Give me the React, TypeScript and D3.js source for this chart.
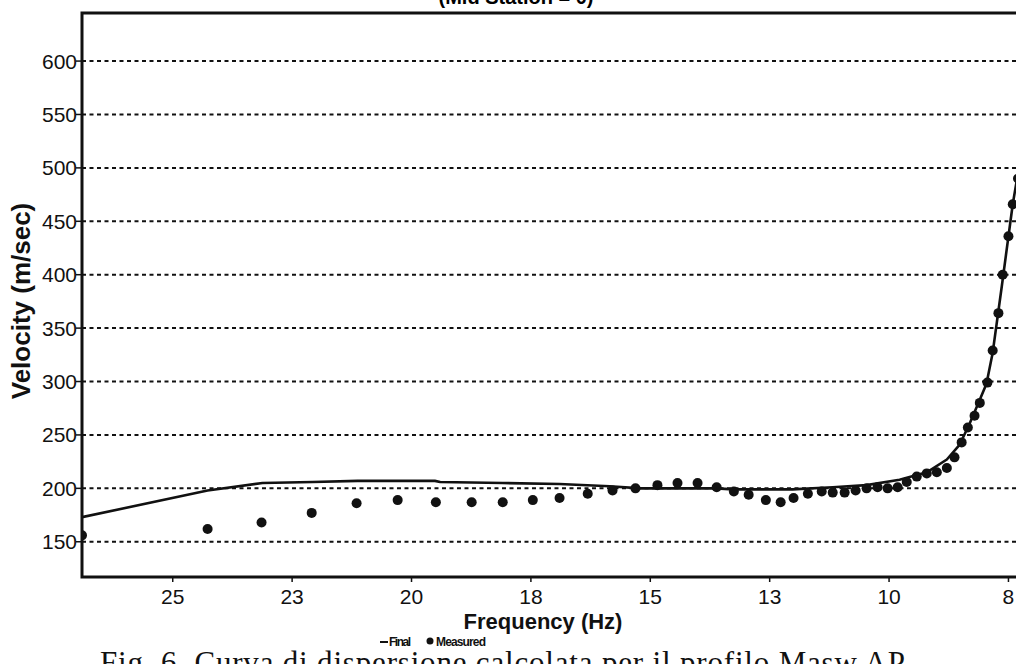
import React from 'react'
import * as d3 from 'd3'

// measured dispersion points (Hz, m/sec)
const measuredFreq = [26.9, 24.27, 23.14, 22.09, 21.15, 20.29, 19.49, 18.74, 18.09, 17.46, 16.9, 16.31, 15.79, 15.31, 14.85, 14.43, 14.01, 13.61, 13.25, 12.94, 12.58, 12.27, 12.0, 11.7, 11.41, 11.18, 10.93, 10.7, 10.47, 10.24, 10.03, 9.82, 9.63, 9.42, 9.21, 9.0, 8.79, 8.63, 8.48, 8.35, 8.21, 8.1, 7.94, 7.83, 7.71, 7.62, 7.5, 7.41, 7.3]
const measuredVel = [156, 162, 168, 177, 186, 189, 187, 187, 187, 189, 191, 195, 198, 200, 203, 205, 205, 201, 197, 194, 189, 187, 191, 195, 197, 196, 196, 198, 200, 201, 200, 201, 206, 211, 214, 215, 219, 229, 243, 257, 268, 280, 299, 329, 364, 400, 436, 466, 490]

// final (calculated) curve
const finalFreq = [26.9, 24.27, 23.12, 22.07, 21.13, 19.51, 19.4, 18.09, 16.9, 15.85, 15.2, 13.61, 13.27, 12.02, 11.18, 10.47, 9.78, 9.21, 8.79, 8.52, 8.31, 8.1, 7.96, 7.83, 7.64, 7.41, 7.3]
const finalVel = [173, 198, 205, 206, 207, 207, 206, 205, 204, 202, 200, 200, 199, 199, 201, 203, 208, 215, 227, 241, 261, 283, 298, 327, 389, 466, 495]

const xTicks = [25, 22.5, 20, 17.5, 15, 12.5, 10, 7.5]
const yTicks = [150, 200, 250, 300, 350, 400, 450, 500, 550, 600]

const sans = "Arial, 'Liberation Sans', sans-serif"
const serif = "'Times New Roman', 'Liberation Serif', serif"

export default function App() {
  const width = 1016, height = 664
  const x = d3.scaleLinear().domain([26.9, 7.3]).range([82, 1018])
  const y = d3.scaleLinear().domain([117, 645]).range([577, 13])
  const [x0, x1] = x.range()
  const [y0, y1] = y.range()

  const linePath = d3.line<number>()
    .x((d, i) => x(finalFreq[i]))
    .y(d => y(d))(finalVel)

  return (
    <svg width={width} height={height} style={{position: 'absolute', left: 0, top: 0, background: '#fff'}}>
      <defs>
        <clipPath id='plot'>
          <rect x={x0} y={y1} width={x1 - x0} height={y0 - y1}/>
        </clipPath>
      </defs>

      {/* title, cut off by the top of the picture */}
      <text x={516} y={4} textAnchor='middle' fontFamily={sans} fontWeight='bold' fontSize={20}>(Mid Station = 0)</text>

      {/* grid */}
      {yTicks.map(t => (
        <g key={t}>
          <line x1={x0} x2={x1} y1={y(t)} y2={y(t)} stroke='#111' strokeWidth={2} strokeDasharray='4,3.5'/>
          <line x1={x0 - 6} x2={x0} y1={y(t)} y2={y(t)} stroke='#111' strokeWidth={1.5}/>
          <text x={x0 - 5} y={y(t)} dy='0.36em' textAnchor='end' fontFamily={sans} fontSize={21} fill='#111'>{t}</text>
        </g>
      ))}

      {xTicks.map(t => (
        <g key={t}>
          <line x1={x(t)} x2={x(t)} y1={y0} y2={y0 + 5} stroke='#111' strokeWidth={1.5}/>
          <text x={x(t)} y={y0 + 27} textAnchor='middle' fontFamily={sans} fontSize={21} fill='#111'>{Math.round(t)}</text>
        </g>
      ))}

      <g clipPath='url(#plot)'>
        <path d={linePath ?? ''} fill='none' stroke='#111' strokeWidth={2.6} strokeLinejoin='round'/>
        {measuredVel.map((v, i) => (
          <circle key={i} cx={x(measuredFreq[i])} cy={y(v)} r={5} fill='#111'/>
        ))}
      </g>

      <rect x={x0} y={y1} width={x1 - x0} height={y0 - y1} fill='none' stroke='#111' strokeWidth={3}/>

      <text transform={`translate(30,301) rotate(-90)`} textAnchor='middle' fontFamily={sans} fontWeight='bold' fontSize={26} fill='#111'>Velocity (m/sec)</text>
      <text x={543} y={629} textAnchor='middle' fontFamily={sans} fontWeight='bold' fontSize={22} fill='#111'>Frequency (Hz)</text>

      {/* legend */}
      <g fontFamily={sans} fontWeight='bold' fontSize={12} fill='#111'>
        <line x1={380} x2={388} y1={642} y2={642} stroke='#111' strokeWidth={2}/>
        <text x={389} y={646} textLength={22}>Final</text>
        <circle cx={430} cy={641} r={3.5} fill='#111'/>
        <text x={436} y={646} textLength={50}>Measured</text>
      </g>

      <text x={100} y={673} fontFamily={serif} fontSize={31} fill='#111' textLength={805}>Fig. 6. Curva di dispersione calcolata per il profilo Masw AP</text>
    </svg>
  )
}
